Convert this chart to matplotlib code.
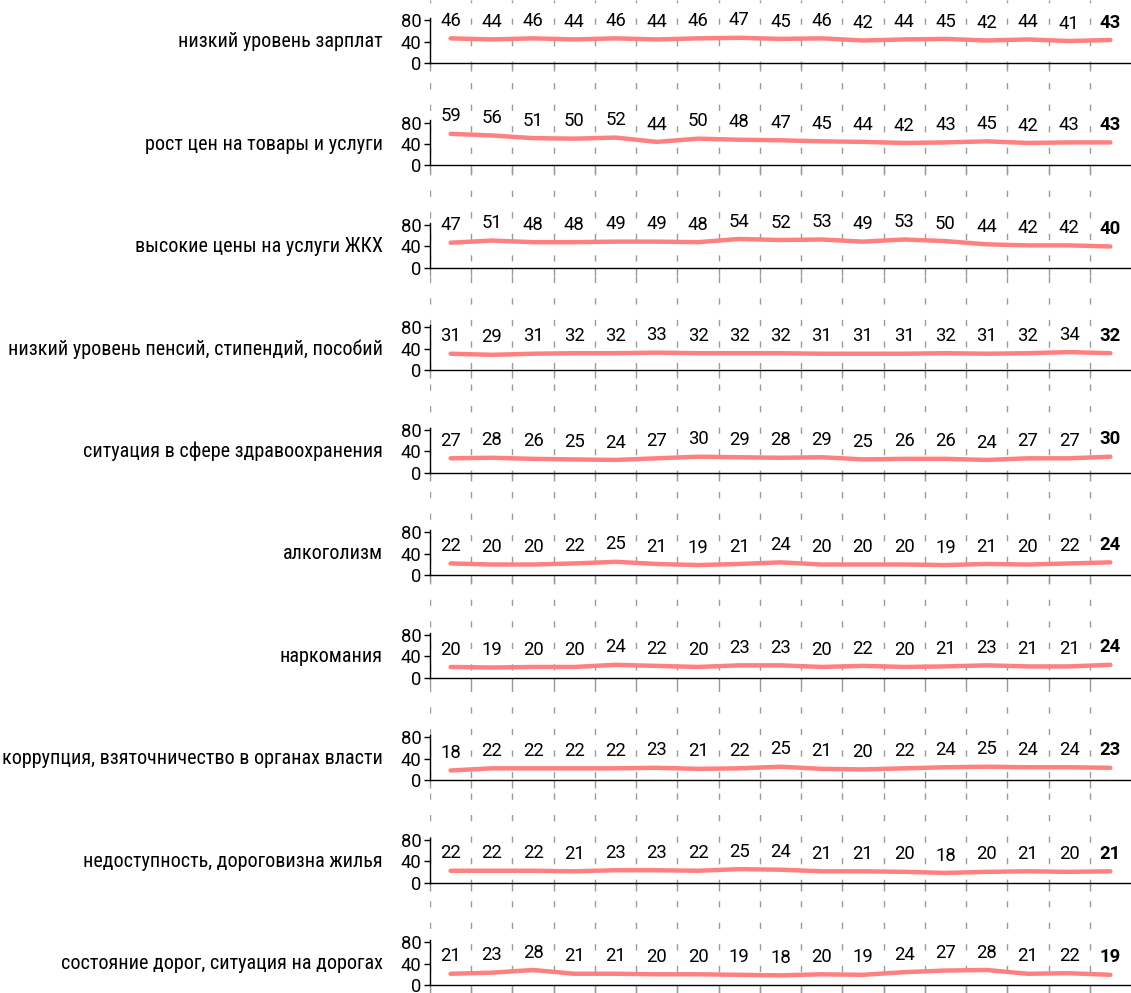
import matplotlib
matplotlib.use("Agg")
import matplotlib.pyplot as plt
import numpy as np

plt.rcParams['font.family'] = ['Roboto', 'DejaVu Sans']

categories = [
    "низкий уровень зарплат",
    "рост цен на товары и услуги",
    "высокие цены на услуги ЖКХ",
    "низкий уровень пенсий, стипендий, пособий",
    "ситуация в сфере здравоохранения",
    "алкоголизм",
    "наркомания",
    "коррупция, взяточничество в органах власти",
    "недоступность, дороговизна жилья",
    "состояние дорог, ситуация на дорогах",
]

s_wages = [46, 44, 46, 44, 46, 44, 46, 47, 45, 46, 42, 44, 45, 42, 44, 41, 43]
s_prices = [59, 56, 51, 50, 52, 44, 50, 48, 47, 45, 44, 42, 43, 45, 42, 43, 43]
s_utilities = [47, 51, 48, 48, 49, 49, 48, 54, 52, 53, 49, 53, 50, 44, 42, 42, 40]
s_pensions = [31, 29, 31, 32, 32, 33, 32, 32, 32, 31, 31, 31, 32, 31, 32, 34, 32]
s_health = [27, 28, 26, 25, 24, 27, 30, 29, 28, 29, 25, 26, 26, 24, 27, 27, 30]
s_alcohol = [22, 20, 20, 22, 25, 21, 19, 21, 24, 20, 20, 20, 19, 21, 20, 22, 24]
s_drugs = [20, 19, 20, 20, 24, 22, 20, 23, 23, 20, 22, 20, 21, 23, 21, 21, 24]
s_corruption = [18, 22, 22, 22, 22, 23, 21, 22, 25, 21, 20, 22, 24, 25, 24, 24, 23]
s_housing = [22, 22, 22, 21, 23, 23, 22, 25, 24, 21, 21, 20, 18, 20, 21, 20, 21]
s_roads = [21, 23, 28, 21, 21, 20, 20, 19, 18, 20, 19, 24, 27, 28, 21, 22, 19]

series = [s_wages, s_prices, s_utilities, s_pensions, s_health,
          s_alcohol, s_drugs, s_corruption, s_housing, s_roads]
y_ticks = [0, 40, 80]

W, H = 1131, 993
fig = plt.figure(figsize=(W / 100, H / 100), dpi=100)

n = len(series[0])
x = np.arange(n)
edges = np.arange(n) - 0.5
left_px, right_px = 430, 1131
ax_h_px = 45
first_bottom = 63
step = (985 - 63) / 9
line_color = "#ff8080"
grid_color = "#9a9a9a"
fs = 13.3
cat_family = ['Roboto Condensed', 'Liberation Sans Narrow', 'Roboto', 'DejaVu Sans']

# background dashed grid across full height
bg = fig.add_axes([left_px / W, 0, (right_px - left_px) / W, 1], zorder=0)
bg.set_xlim(-0.5, n - 0.5)
bg.set_ylim(0, 1)
bg.axis("off")
for e in edges:
    bg.axvline(e, color=grid_color, lw=1.0, linestyle=(0, (4.5, 11)))

for i, (cat, vals) in enumerate(zip(categories, series)):
    bottom_px = first_bottom + i * step
    ax = fig.add_axes([left_px / W, 1 - bottom_px / H, (right_px - left_px) / W, ax_h_px / H], zorder=2)
    ax.patch.set_alpha(0)
    ax.set_xlim(-0.5, n - 0.5)
    ax.set_ylim(0, 84)
    ax.plot(x, vals, color=line_color, lw=3.2, solid_joinstyle="round",
            solid_capstyle="round", clip_on=False)
    for j, v in enumerate(vals):
        ax.annotate(str(v), xy=(j, v), xytext=(0, 12.5), textcoords="offset points",
                    ha="center", va="center", fontsize=fs,
                    fontweight="bold" if j == n - 1 else "normal",
                    annotation_clip=False)
    ax.set_yticks(y_ticks)
    ax.set_xticks(edges)
    ax.set_xticklabels([])
    ax.tick_params(axis="y", labelsize=fs, length=4, width=1, pad=2)
    ax.tick_params(axis="x", length=6, width=1, color=grid_color)
    for sp in ["top", "right"]:
        ax.spines[sp].set_visible(False)
    ax.spines["left"].set_linewidth(1)
    ax.spines["bottom"].set_linewidth(1)
    ax.annotate(cat, xy=(0, 40), xycoords=ax.get_yaxis_transform(),
                xytext=(-34, 0), textcoords="offset points",
                ha="right", va="center", fontsize=14.5, family=cat_family)

fig.savefig("out.png", dpi=100)
